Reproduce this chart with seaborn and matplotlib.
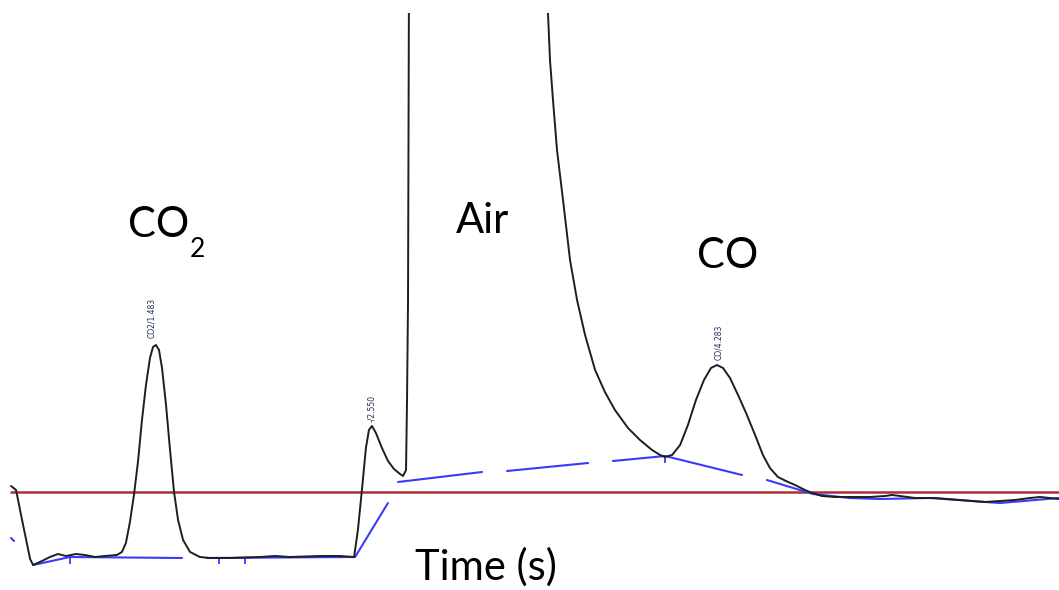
import numpy as np
import pandas as pd
import matplotlib
matplotlib.use("Agg")
import matplotlib.pyplot as plt
import seaborn as sns

# ---- detector trace (time in min, signal in arbitrary units) ----
trace_time = [0.765, 0.790, 0.820, 0.860, 0.875, 0.909, 0.959, 0.999, 1.039, 1.089,
              1.134, 1.184, 1.234, 1.293, 1.318, 1.338, 1.358, 1.378, 1.398, 1.418,
              1.438, 1.458, 1.473, 1.488, 1.503, 1.518, 1.538, 1.558, 1.578, 1.598,
              1.623, 1.658, 1.707, 1.757, 1.857, 2.007, 2.082, 2.156, 2.306, 2.406,
              2.476, 2.495, 2.515, 2.535, 2.550, 2.565, 2.585, 2.615, 2.645, 2.675,
              2.705, 2.720, 2.735, 2.740, 2.745, 2.751, 3.094, 3.438, 3.443, 3.453,
              3.468, 3.488, 3.518, 3.553, 3.588, 3.628, 3.678, 3.727, 3.777, 3.842,
              3.902, 3.962, 4.002, 4.027, 4.062, 4.102, 4.141, 4.181, 4.221, 4.256,
              4.286, 4.316, 4.351, 4.391, 4.431, 4.476, 4.515, 4.550, 4.590, 4.630,
              4.675, 4.725, 4.760, 4.810, 4.875, 4.949, 5.049, 5.124, 5.159, 5.199,
              5.274, 5.373, 5.498, 5.623, 5.697, 5.772, 5.847, 5.897, 5.947, 5.992]
trace_signal = [0.6, 0.2, -2.8, -6.7, -7.3, -7.0, -6.5, -6.2, -6.4, -6.2,
                -6.3, -6.5, -6.4, -6.3, -6.0, -5.1, -3.0, -0.3, 3.0, 7.2,
                10.7, 13.4, 14.5, 14.7, 14.2, 12.4, 8.7, 4.2, 0.0, -2.8,
                -4.8, -6.0, -6.5, -6.6, -6.6, -6.5, -6.4, -6.5, -6.4, -6.4,
                -6.5, -3.8, 0.2, 4.4, 6.2, 6.6, 5.9, 4.4, 3.1, 2.3,
                1.8, 1.6, 2.2, 9.2, 19.2, 60.0, 900.0, 60.0, 47.9, 43.2,
                39.2, 34.2, 29.2, 23.2, 19.2, 15.7, 12.2, 10.0, 8.2, 6.4,
                5.2, 4.2, 3.7, 3.5, 3.7, 4.7, 6.7, 9.2, 11.2, 12.4,
                12.7, 12.4, 11.4, 9.7, 7.9, 5.7, 3.7, 2.4, 1.5, 1.1,
                0.7, 0.2, -0.1, -0.4, -0.5, -0.5, -0.5, -0.4, -0.3, -0.4,
                -0.6, -0.6, -0.8, -1.0, -0.9, -0.8, -0.6, -0.5, -0.6, -0.7]

# ---- integration baseline segments ----
base_seg = [0, 0,
            1, 1, 1,
            2, 2, 2,
            3, 3,
            4, 4,
            5, 5, 5,
            6, 6, 6, 6, 6, 6, 6, 6]
base_time = [0.765, 0.780,
             0.875, 1.059, 1.618,
             1.742, 2.481, 2.645,
             2.695, 3.114,
             3.239, 3.643,
             3.767, 4.027, 4.411,
             4.535, 4.765, 4.949, 5.099, 5.348, 5.623, 5.697, 5.992]
base_signal = [-4.6, -4.9,
               -7.3, -6.5, -6.6,
               -6.6, -6.5, -1.1,
               1.0, 2.0,
               2.1, 2.9,
               3.1, 3.6, 1.7,
               1.2, -0.2, -0.6, -0.7, -0.6, -1.0, -1.1, -0.6]

event_time = [1.059, 1.802, 1.932, 4.027]
event_signal = [-6.9, -6.9, -6.9, 3.2]

peak_labels = ["CO2/1.483", "-/2.550", "CO/4.283"]
peak_label_time = [1.468, 2.565, 4.296]
peak_label_signal = [15.4, 7.0, 13.2]

big_labels = ["CO", "Air", "CO", "Time (s)"]
big_label_time = [1.348, 2.984, 4.186, 2.780]
big_label_signal = [25.5, 25.9, 22.4, -8.8]

sns.set_style("white")
plt.rcParams["font.family"] = ["Lato", "DejaVu Sans"]

fig = plt.figure(figsize=(10.59, 5.90), dpi=100)
ax = fig.add_axes([0, 0, 1, 577 / 590])

trace = pd.DataFrame({"t": trace_time, "s": trace_signal})
base = pd.DataFrame({"seg": base_seg, "t": base_time, "s": base_signal})

ax.axhline(0, xmin=11 / 1059, xmax=1, color="#a83232", lw=1.8, zorder=1)
sns.lineplot(data=base, x="t", y="s", units="seg", estimator=None, sort=False,
             color="#3a3aff", lw=1.5, ax=ax, zorder=2)
ax.plot(event_time, event_signal, ls="none", marker="|", ms=5, mew=1.3,
        color="#3a3aff", zorder=2)
sns.lineplot(data=trace, x="t", y="s", estimator=None, sort=False,
             color="#1e1e1e", lw=1.4, ax=ax, zorder=3)

for lab, t, s in zip(peak_labels, peak_label_time, peak_label_signal):
    ax.text(t, s, lab, rotation=90, ha="center", va="bottom", fontsize=5.5,
            color="#1d2b55", family=["DejaVu Sans"])

for lab, t, s in zip(big_labels, big_label_time, big_label_signal):
    ax.text(t, s, lab, ha="left", va="baseline", fontsize=30, color="black")
ax.text(1.658, 23.5, "2", ha="left", va="baseline", fontsize=19, color="black")

ax.set_xlim(0.70993, 5.99177)
ax.set_ylim(-9.8, 47.9)
ax.set_axis_off()

fig.savefig("out.png", dpi=100)
